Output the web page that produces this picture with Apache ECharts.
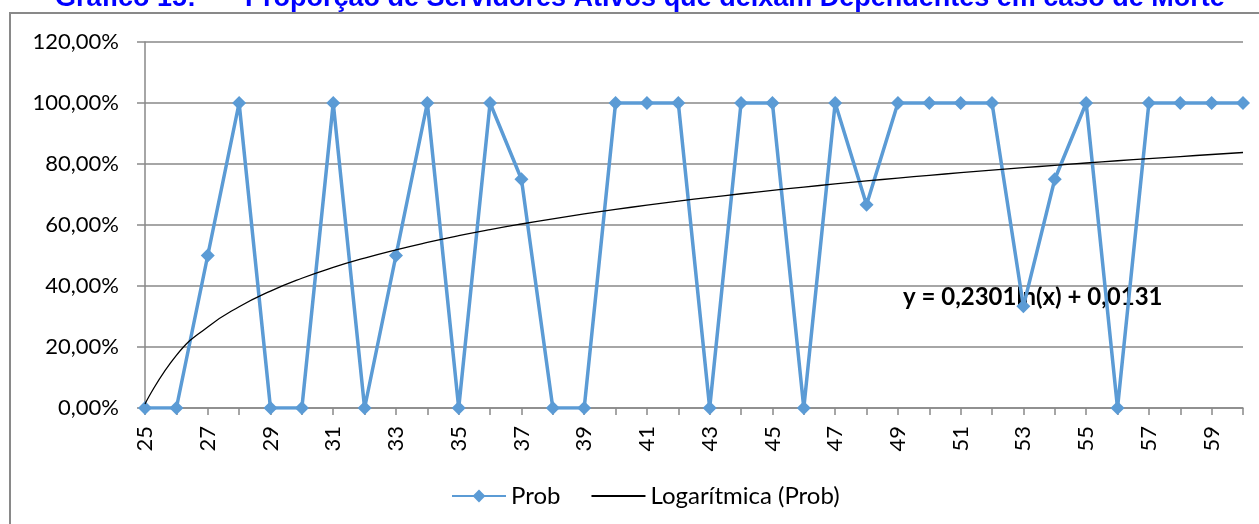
<!DOCTYPE html>
<html>
<head>
<meta charset="utf-8">
<script src="https://cdn.jsdelivr.net/npm/echarts@6/dist/echarts.min.js"></script>
<style>
	html, body { margin: 0; padding: 0; background: #fff; }
	#main { width: 1259px; height: 524px; }
</style>
</head>
<body>
<div id="main"></div>
<script>
// idades
const categories = ['25', '26', '27', '28', '29', '30', '31', '32', '33', '34', '35', '36',
	'37', '38', '39', '40', '41', '42', '43', '44', '45', '46', '47', '48',
	'49', '50', '51', '52', '53', '54', '55', '56', '57', '58', '59', '60']
// Prob (%)
const prob = [0, 0, 50, 100, 0, 0, 100, 0, 50, 100, 0, 100,
	75, 0, 0, 100, 100, 100, 0, 100, 100, 0, 100, 66.67,
	100, 100, 100, 100, 33.33, 75, 100, 0, 100, 100, 100, 100]
// Logarítmica (Prob) (%)
const trend = [1.31, 17.26, 26.59, 33.21, 38.34, 42.54, 46.09, 49.16, 51.87, 54.29, 56.49, 58.49,
	60.33, 62.04, 63.62, 65.11, 66.50, 67.82, 69.06, 70.24, 71.36, 72.43, 73.46, 74.44,
	75.38, 76.28, 77.15, 77.98, 78.79, 79.57, 80.33, 81.06, 81.76, 82.45, 83.12, 83.77]
const yTicks = { min: 0, max: 120, interval: 20 }

const chart = echarts.init(document.getElementById('main'), null, { renderer: 'canvas' })
const font = 'Lato, "Noto Sans", sans-serif'
const grey = '#898989'
const titleFont = 'bold 27px "Liberation Sans", Arial, sans-serif'

const options = {
	animation: false,
	textStyle: { fontFamily: font, color: '#000' },
	grid: { left: 145, right: 16, top: 42, bottom: 116 },
	graphic: [
		{
			type: 'text',
			left: 55, top: -15,
			style: { text: 'Gráfico 15:', fill: '#0000ff', font: titleFont },
		},
		{
			type: 'text',
			left: 245, top: -15,
			style: { text: 'Proporção de Servidores Ativos que deixam Dependentes em caso de Morte', fill: '#0000ff', font: titleFont },
		},
		// moldura do gráfico
		{
			type: 'line',
			shape: { x1: 9, y1: 13, x2: 1259, y2: 13 },
			style: { stroke: grey, lineWidth: 2 },
			silent: true,
			z: 100,
		},
		{
			type: 'line',
			shape: { x1: 10, y1: 12, x2: 10, y2: 524 },
			style: { stroke: grey, lineWidth: 2 },
			silent: true,
			z: 100,
		},
		{
			type: 'text',
			left: 903, top: 285,
			style: { text: 'y = 0,2301ln(x) + 0,0131', fill: '#000', font: 'bold 24px Lato, sans-serif' },
		},
	],
	legend: {
		left: 446, top: 479,
		itemWidth: 54, itemHeight: 16, itemGap: 30,
		textStyle: { fontSize: 24, color: '#000', fontFamily: font },
		data: [
			{ name: 'Prob' },
			{ name: 'Logarítmica (Prob)', itemStyle: { opacity: 0 } },
		],
	},
	xAxis: {
		type: 'category',
		data: categories,
		boundaryGap: false,
		axisLine: { lineStyle: { color: grey, width: 1.5 } },
		axisTick: { show: true, interval: 0, length: 7, lineStyle: { color: grey, width: 1.5 } },
		axisLabel: { interval: 1, rotate: 90, margin: 18, fontSize: 22, color: '#000', fontFamily: font },
		splitLine: { show: false },
	},
	yAxis: {
		type: 'value',
		min: yTicks.min, max: yTicks.max, interval: yTicks.interval,
		axisLine: { show: true, lineStyle: { color: grey, width: 1.5 } },
		axisTick: { show: true, length: 8, lineStyle: { color: grey, width: 1.5 } },
		axisLabel: {
			margin: 26, fontSize: 22, color: '#000', fontFamily: font,
			formatter: v => v.toFixed(2).replace('.', ',') + '%',
		},
		splitLine: { lineStyle: { color: grey, width: 1.5 } },
	},
	series: [
		{
			name: 'Prob',
			type: 'line',
			data: prob,
			symbol: 'diamond',
			symbolSize: 14,
			lineStyle: { color: '#5b9bd5', width: 3.5 },
			itemStyle: { color: '#5b9bd5' },
			z: 3,
		},
		{
			name: 'Logarítmica (Prob)',
			type: 'line',
			data: trend,
			symbol: 'none',
			smooth: true,
			lineStyle: { color: '#000', width: 1.3 },
			itemStyle: { color: '#000' },
			z: 4,
		},
	],
}
chart.setOption(options)
</script>
</body>
</html>
